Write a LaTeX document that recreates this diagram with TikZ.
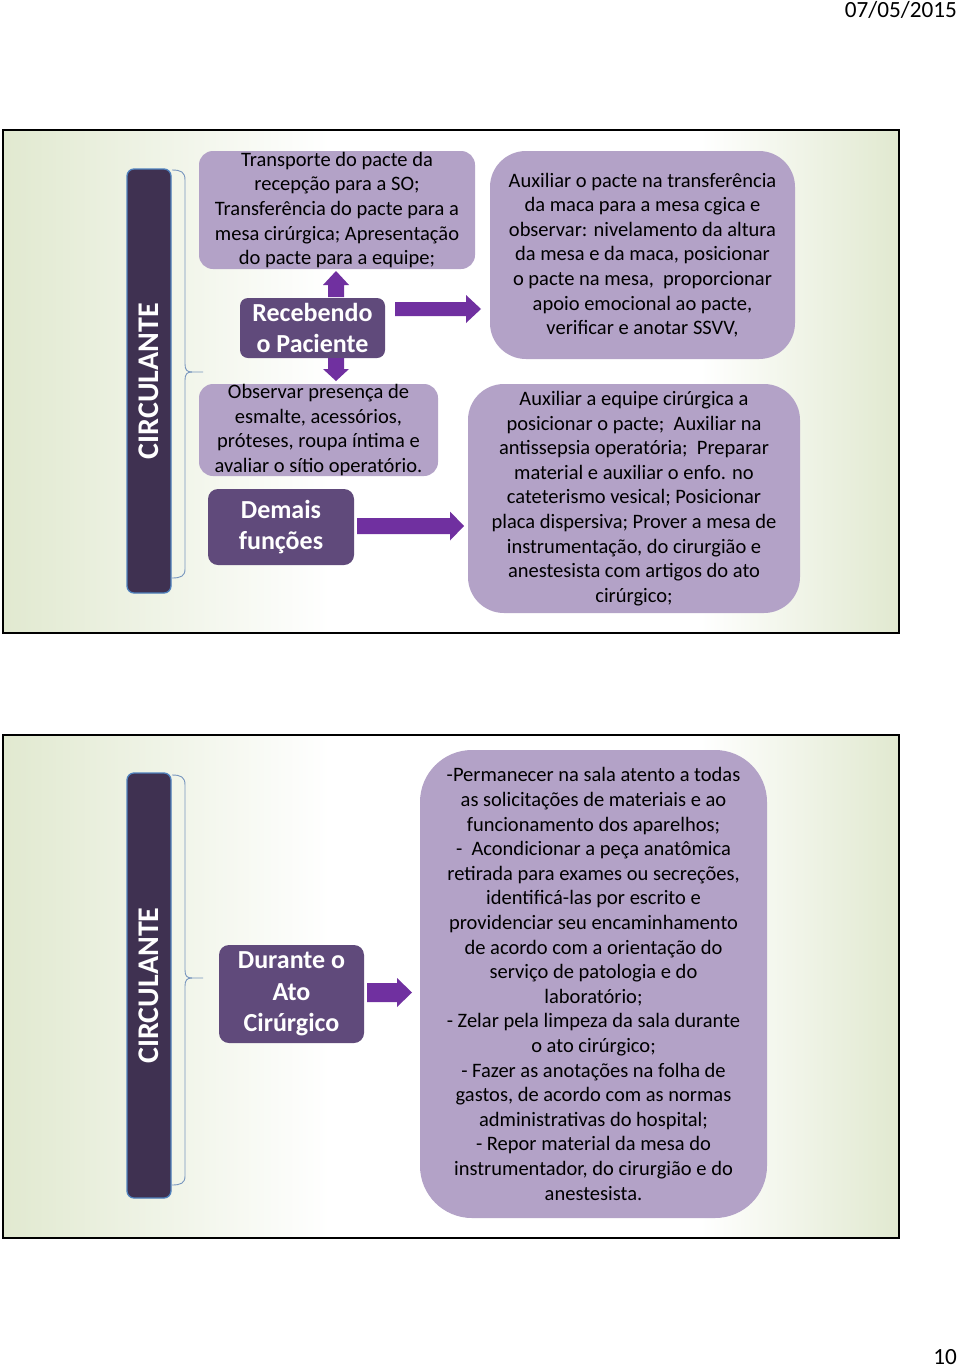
\documentclass[tikz,border=0pt]{standalone}
\usepackage{fontspec}
\setmainfont{Carlito}
\usetikzlibrary{calc}
\definecolor{lightpurple}{HTML}{B3A2C7}
\definecolor{midpurple}{HTML}{604A7B}
\definecolor{darkpurple}{HTML}{3F3151}
\definecolor{arrowpurple}{HTML}{7030A0}
\definecolor{barborder}{HTML}{4F81BD}
\definecolor{bracecol}{HTML}{7896BE}
\definecolor{bggreen}{HTML}{E1E9D0}
\tikzset{
  slidebg/.style={draw=black, line width=2pt},
  lbox/.style={rectangle, fill=lightpurple, rounded corners=14pt, align=center, inner sep=0pt,
    font=\fontsize{20.5}{24.6}\selectfont, text=black},
  dbox/.style={rectangle, fill=midpurple, rounded corners=10pt, align=center, inner sep=0pt,
    font=\fontsize{26}{31.5}\selectfont\bfseries, text=white},
  barbox/.style={rectangle, fill=darkpurple, draw=barborder, line width=1.3pt, rounded corners=7pt,
    inner sep=0pt, font=\fontsize{30}{34}\selectfont\bfseries, text=white},
  braceline/.style={draw=bracecol, line width=0.9pt},
  blockarrow/.style={fill=arrowpurple, draw=none},
}
\newcommand{\rarrow}[6]{% x0 x1(head start) x2(tip) yc shafthalf headhalf
  \fill[blockarrow] (#1,#4-#5) -- (#2,#4-#5) -- (#2,#4-#6) -- (#3,#4) -- (#2,#4+#6) -- (#2,#4+#5) -- (#1,#4+#5) -- cycle;}
\newcommand{\varrow}[6]{% y0 y1(head start) y2(tip) xc shafthalf headhalf
  \fill[blockarrow] (#4-#5,#1) -- (#4-#5,#2) -- (#4-#6,#2) -- (#4,#3) -- (#4+#6,#2) -- (#4+#5,#2) -- (#4+#5,#1) -- cycle;}
\begin{document}
\begin{tikzpicture}[x=1pt,y=-1pt]
\useasboundingbox (0,0) rectangle (960,1368);
\fill[white] (0,0) rectangle (960,1368);

% header / footer
\node[anchor=north east, inner sep=0pt, font=\fontsize{23.2}{27}\selectfont] (date) at (957,1) {07/05/2015};
\node[anchor=base east, inner sep=0pt, font=\fontsize{23.2}{27}\selectfont] (pagenum) at (957,1364) {10};

% ---------- slide 1 ----------
\fill[white] (3,130) rectangle (899,633);
\shade[left color=bggreen, right color=white] (3,130) rectangle (330,633);
\shade[left color=white, right color=bggreen] (700,130) rectangle (899,633);
\draw[slidebg] (3,130) rectangle (899,633);

\node[barbox, rotate=90, minimum width=424pt, minimum height=44pt] (bar1) at (149,381) {CIRCULANTE};
\draw[braceline] (172,170) .. controls (181,170) and (185,172) .. (185,180) -- (185,364)
  .. controls (185,370) and (187,372) .. (192,372) -- (203,372);
\draw[braceline] (192,372) .. controls (187,372) and (185,374) .. (185,380) -- (185,569)
  .. controls (185,576) and (181,578) .. (172,578);

\node[lbox, minimum width=276pt, minimum height=118pt] (t1) at (337,210)
  {Transporte do pacte da\\recepção para a SO;\\Transferência do pacte para a\\mesa cirúrgica; Apresentação\\do pacte para a equipe;};
\node[dbox, minimum width=145pt, minimum height=60pt, rounded corners=8pt] (rec) at (312.5,328)
  {Recebendo\\o Paciente};
\node[lbox, minimum width=239pt, minimum height=92pt] (obs) at (318.5,430)
  {Observar presença de\\esmalte, acessórios,\\próteses, roupa íntima e\\avaliar o sítio operatório.};
\node[dbox, minimum width=146pt, minimum height=76pt] (dem) at (281,527)
  {Demais\\funções};
\node[lbox, minimum width=305pt, minimum height=208pt, rounded corners=36pt] (r1) at (642.5,255)
  {Auxiliar o pacte na transferência\\da maca para a mesa cgica e\\observar: nivelamento da altura\\da mesa e da maca, posicionar\\o pacte na mesa,~ proporcionar\\apoio emocional ao pacte,\\verificar e anotar SSVV,};
\node[lbox, minimum width=332pt, minimum height=229pt, rounded corners=36pt] (r2) at (634,498.5)
  {Auxiliar a equipe cirúrgica a\\posicionar o pacte;~ Auxiliar na\\antissepsia operatória;~ Preparar\\material e auxiliar o enfo. no\\cateterismo vesical; Posicionar\\placa dispersiva; Prover a mesa de\\instrumentação, do cirurgião e\\anestesista com artigos do ato\\cirúrgico;};

% block arrows slide 1
\varrow{297}{285}{271}{336}{8}{13}
\varrow{358}{369}{381}{336}{8}{13}
\rarrow{395}{466}{481}{309}{7}{14}
\rarrow{357}{450}{464}{526}{8}{14.5}

% ---------- slide 2 ----------
\fill[white] (3,735) rectangle (899,1238);
\shade[left color=bggreen, right color=white] (3,735) rectangle (330,1238);
\shade[left color=white, right color=bggreen] (700,735) rectangle (899,1238);
\draw[slidebg] (3,735) rectangle (899,1238);

\node[barbox, rotate=90, minimum width=425pt, minimum height=44pt] (bar2) at (149,985.5) {CIRCULANTE};
\draw[braceline] (172,775) .. controls (181,775) and (185,777) .. (185,785) -- (185,970)
  .. controls (185,976) and (187,978) .. (192,978) -- (203,978);
\draw[braceline] (192,978) .. controls (187,978) and (185,980) .. (185,986) -- (185,1176)
  .. controls (185,1183) and (181,1185) .. (172,1185);

\node[dbox, minimum width=145pt, minimum height=98pt] (dur) at (291.5,994)
  {Durante o\\Ato\\Cirúrgico};
\node[lbox, minimum width=347pt, minimum height=468pt, rounded corners=52pt] (big) at (593.5,984)
  {-Permanecer na sala atento a todas\\as solicitações de materiais e ao\\funcionamento dos aparelhos;\\-~ Acondicionar a peça anatômica\\retirada para exames ou secreções,\\identificá-las por escrito e\\providenciar seu encaminhamento\\de acordo com a orientação do\\serviço de patologia e do\\laboratório;\\- Zelar pela limpeza da sala durante\\o ato cirúrgico;\\- Fazer as anotações na folha de\\gastos, de acordo com as normas\\administrativas do hospital;\\- Repor material da mesa do\\instrumentador, do cirurgião e do\\anestesista.};
\rarrow{367}{397}{412}{992.5}{9.5}{14.5}
\end{tikzpicture}
\end{document}
